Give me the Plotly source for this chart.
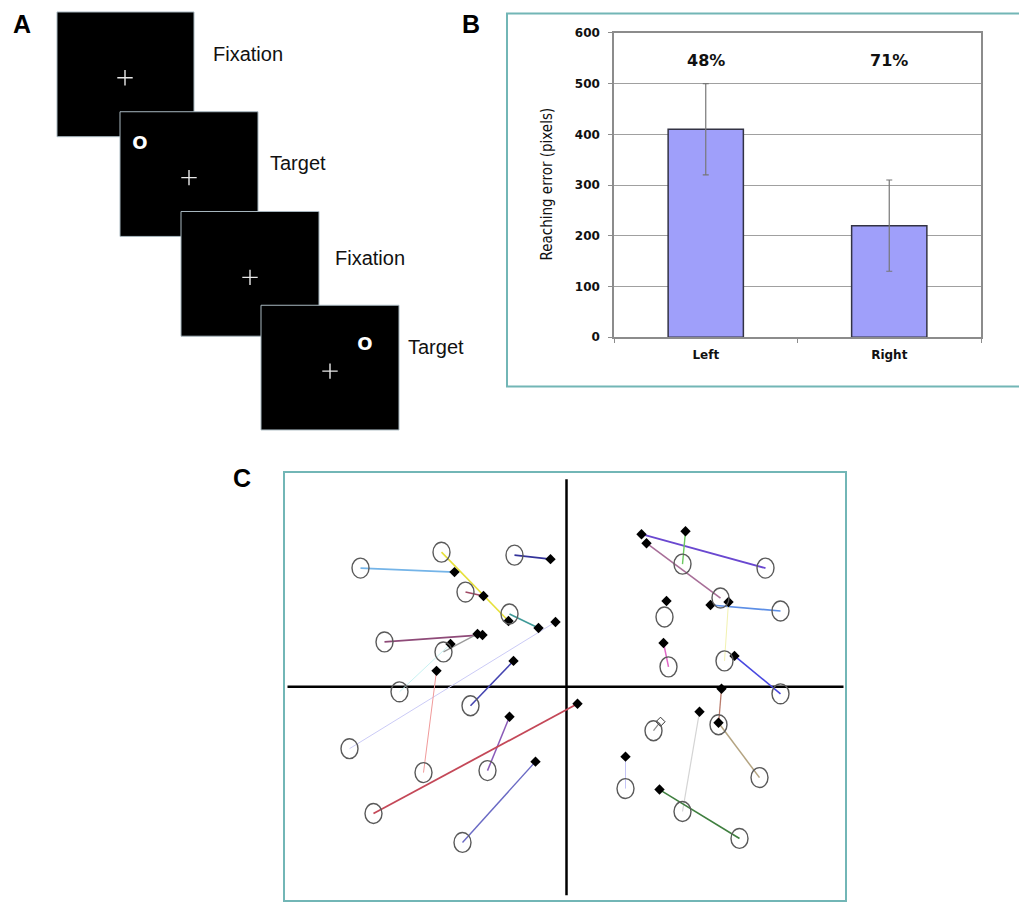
import plotly.graph_objects as go

W, H = 1019, 907

# ---------------- Panel A data (schematic trial sequence) ----------------
frame_left = [57, 120, 181, 261]
frame_top = [11, 111, 211, 305]
frame_right = [194, 258, 319, 399]
frame_bottom = [136, 236, 336, 430]
cross_x = [125, 189, 250, 330]
cross_y = [77, 177, 277, 371]
stim_x = [140, 365]
stim_y = [144, 345]
step_labels = ["Fixation", "Target", "Fixation", "Target"]
step_label_x = [211, 268, 333, 406]
step_label_y = [53, 162, 258, 347]

# ---------------- Panel B data ----------------
sides = ["Left", "Right"]
reach_error = [410, 220]
reach_err_sd = [90, 90]
pct_labels = ["48%", "71%"]
pct_label_y = [545, 545]
b_ticks = [0, 100, 200, 300, 400, 500, 600]

# ---------------- Panel C data (target circle -> reach endpoint) ----------------
target_x = [-206, -125, -57, -52, -101, -182, -123, -167, -217, -96, -143, -79, -193, -104,
            199, 116, 154, 214, 158, 98, 102, 214, 152, 193, 87, 116, 59, 173]
target_y = [119, 135, 73, 132, 95, 45, 35, -5, -62, -19, -86, -84, -127, -156,
            119, 123, 89, 76, 26, 70, 20, -7, -38, -91, -44, -125, -102, -152]
reach_x = [-112, -58, -28, -16, -83, -84, -89, -116, -11, -53, -130, -57, 11, -31,
           75, 119, 80, 144, 162, 100, 97, 168, 155, 152, 94, 133, 59, 93]
reach_y = [115, 66, 59, 128, 91, 52, 53, 43, 65, 26, 16, -30, -17, -75,
           153, 156, 144, 82, 85, 86, 44, 31, -2, -36, -35, -25, -70, -103]
reach_hollow = [False] * 24 + [True] + [False] * 3

pair_colors = ["#74b4e8", "#e6e03a", "#3f9a98", "#33339a", "#a04a66", "#8e4a78", "#9a9a9a",
               "#c8f2f2", "#cbcbf6", "#4444b0", "#f09a9a", "#8a5ab8", "#c44858", "#6a6ac4",
               "#6a48d0", "#6cc860", "#a86e98", "#5c8ee6", "#f2f2b0", "rgba(0,0,0,0)",
               "#e066c6", "#4848e0", "#b87a6a", "#b4a482", "#8a8a8a", "#d4d4d4", "#c4c4f6",
               "#3f7f3f"]
pair_widths = [1.6, 1.6, 1.6, 1.6, 1.6, 1.8, 1.3, 1.0, 1.0, 1.6, 1.0, 1.5, 1.8, 1.4,
               1.8, 1.4, 1.6, 1.6, 1.0, 1.0, 1.5, 1.6, 1.3, 1.5, 1.2, 1.2, 1.0, 1.6]

# vertical placement helper (screen row -> paper fraction)
VS, VOFF = 0.987, 6.0


def py_page(r):
    return (r - VOFF) / VS


def pyf(r):
    return 1 - py_page(r) / H


fig = go.Figure()

# ---------- Panel B bars ----------
fig.add_trace(go.Bar(
    x=sides, y=reach_error, xaxis="x", yaxis="y",
    marker=dict(color="#9f9ffa", line=dict(color="#333344", width=1.5)),
    error_y=dict(type="data", array=reach_err_sd, color="#777777", thickness=1.2, width=3),
    width=0.41, hoverinfo="skip",
))
for s, t, yy in zip(sides, pct_labels, pct_label_y):
    fig.add_annotation(x=s, y=yy, xref="x", yref="y", text="<b>%s</b>" % t, showarrow=False,
                       font=dict(family="DejaVu Sans", size=16, color="#111"))

# ---------- Panel C ----------
for i in range(len(target_x)):
    fig.add_trace(go.Scatter(
        x=[target_x[i], reach_x[i]], y=[target_y[i], reach_y[i]], xaxis="x2", yaxis="y2",
        mode="lines", line=dict(color=pair_colors[i], width=pair_widths[i]), hoverinfo="skip"))

solid_rx = [x for x, h in zip(reach_x, reach_hollow) if not h]
solid_ry = [y for y, h in zip(reach_y, reach_hollow) if not h]
hol_rx = [x for x, h in zip(reach_x, reach_hollow) if h]
hol_ry = [y for y, h in zip(reach_y, reach_hollow) if h]
fig.add_trace(go.Scatter(x=solid_rx, y=solid_ry, xaxis="x2", yaxis="y2", mode="markers",
                         marker=dict(symbol="diamond", size=8, color="black"), hoverinfo="skip"))
fig.add_trace(go.Scatter(x=hol_rx, y=hol_ry, xaxis="x2", yaxis="y2", mode="markers",
                         marker=dict(symbol="diamond", size=7, color="white",
                                     line=dict(color="#333", width=1)), hoverinfo="skip"))

shapes = []
for tx, ty in zip(target_x, target_y):
    shapes.append(dict(type="circle", xref="x2", yref="y2", x0=tx - 8.5, x1=tx + 8.5,
                       y0=ty - 10, y1=ty + 10, line=dict(color="#5a5a5a", width=1.4),
                       layer="above"))
shapes.append(dict(type="line", xref="x2", yref="y2", x0=0, x1=0, y0=-209, y1=208,
                   line=dict(color="black", width=2.5), layer="below"))
shapes.append(dict(type="line", xref="x2", yref="y2", x0=-279, x1=277, y0=0, y1=0,
                   line=dict(color="black", width=2.5), layer="below"))

# ---------- Panel A ----------
for l, t, r, b in zip(frame_left, frame_top, frame_right, frame_bottom):
    shapes.append(dict(type="rect", xref="x3", yref="y3", x0=l, x1=r, y0=t, y1=b,
                       fillcolor="black", line=dict(color="#a8b8c0", width=1), layer="below"))
fig.add_trace(go.Scatter(x=cross_x, y=cross_y, xaxis="x3", yaxis="y3", mode="markers",
                         marker=dict(symbol="cross-thin-open", size=11, color="#e8e8e8",
                                     line=dict(width=1.4, color="#e8e8e8")), hoverinfo="skip"))
fig.add_trace(go.Scatter(x=stim_x, y=stim_y, xaxis="x3", yaxis="y3", mode="text",
                         text=["O"] * len(stim_x), textposition="middle center",
                         textfont=dict(family="DejaVu Sans", size=18, color="white", weight="bold"),
                         hoverinfo="skip"))
for txt, lx, ly in zip(step_labels, step_label_x, step_label_y):
    fig.add_annotation(x=lx, y=ly, xref="x3", yref="y3", text=txt, showarrow=False,
                       xanchor="left", yanchor="middle",
                       font=dict(family="Liberation Sans, Arial", size=20, color="#111"))

# Panel border (B)
shapes.append(dict(type="rect", xref="paper", yref="paper", x0=507 / W, x1=1030 / W,
                   y0=pyf(386.5), y1=pyf(12.5), line=dict(color="#72b6b6", width=2),
                   layer="below"))

fig.update_layout(shapes=shapes)

for letter, px, py in [("A", 22, 23), ("B", 471, 23), ("C", 242, 478)]:
    fig.add_annotation(x=px / W, y=pyf(py), xref="paper", yref="paper", text="<b>%s</b>" % letter,
                       showarrow=False, xanchor="center", yanchor="middle",
                       font=dict(family="Liberation Sans, Arial", size=25, color="black"))

fig.add_annotation(x=547 / W, y=pyf(184), xref="paper", yref="paper",
                   text="Reaching error (pixels)", textangle=-90, showarrow=False,
                   xanchor="center", yanchor="middle",
                   font=dict(family="DejaVu Sans Condensed, Liberation Sans Narrow, Liberation Sans",
                             size=15, color="#111"))

# panel C vertical extent: top border at row 473.5, 1 unit per screen row
c_top_page = py_page(473.5)
c_units = (H - c_top_page) * VS
c_ytop = 687.5 - 473.5

tickfont = dict(family="DejaVu Sans", size=12, color="#111", weight="bold")
fig.update_layout(
    width=W, height=H, margin=dict(l=0, r=0, t=0, b=0), autosize=False,
    paper_bgcolor="white", plot_bgcolor="white", showlegend=False,
    xaxis=dict(domain=[614 / W, 981 / W], anchor="y", type="category",
               categoryorder="array", categoryarray=sides,
               showline=True, mirror=True, linecolor="#8c8c8c", linewidth=1.5,
               ticks="outside", tickson="boundaries", ticklen=4, tickcolor="#8c8c8c",
               tickfont=tickfont, ticklabelstandoff=6,
               showgrid=False, zeroline=False, fixedrange=True),
    yaxis=dict(domain=[pyf(337), pyf(32)], anchor="x", range=[0, 600],
               tickvals=b_ticks, showgrid=True, gridcolor="#a0a0a0", gridwidth=1.4,
               showline=True, mirror=True, linecolor="#8c8c8c", linewidth=1.5,
               ticks="outside", ticklen=4, tickcolor="#8c8c8c",
               tickfont=tickfont, ticklabelstandoff=6,
               zeroline=False, fixedrange=True),
    xaxis2=dict(domain=[285 / W, 845 / W], anchor="y2", range=[-281.5, 278.5],
                showgrid=False, zeroline=False, showticklabels=False, ticks="",
                showline=True, mirror=True, linecolor="#72b6b6", linewidth=1.5),
    yaxis2=dict(domain=[0, pyf(473.5)], anchor="x2", range=[c_ytop - c_units, c_ytop],
                showgrid=False, zeroline=False, showticklabels=False, ticks="",
                showline=True, mirror=True, linecolor="#72b6b6", linewidth=1.5),
    xaxis3=dict(domain=[0, 480 / W], anchor="y3", range=[0, 480], visible=False),
    yaxis3=dict(domain=[pyf(440), 1], anchor="x3", range=[440, VOFF], visible=False),
)

post = ("document.documentElement.style.margin='0px';"
        "document.body.style.margin='0px';document.body.style.overflow='hidden';"
        "var gd=document.getElementById('{plot_id}');"
        "gd.style.position='fixed';gd.style.left='0px';gd.style.top='0px';")
fig.write_html("out.html", config={"displayModeBar": False}, post_script=post)
